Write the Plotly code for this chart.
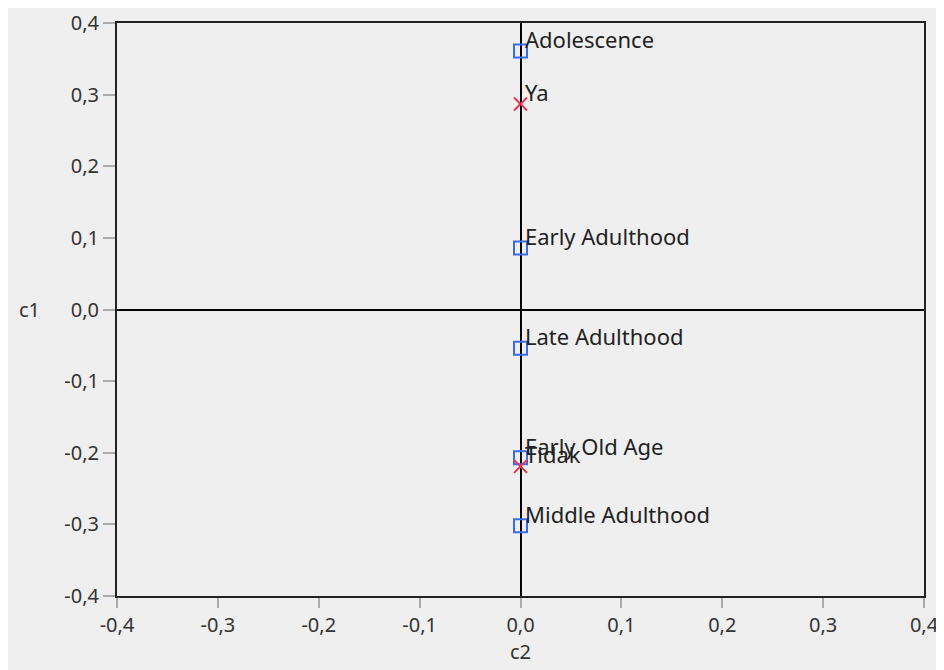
import plotly.graph_objects as go

# Row points (age groups)
age_labels = ["Adolescence", "Early Adulthood", "Late Adulthood", "Early Old Age", "Middle Adulthood"]
age_c2 = [0.0, 0.0, 0.0, 0.0, 0.0]
age_c1 = [0.361, 0.086, -0.054, -0.207, -0.302]

# Column points (answers)
ans_labels = ["Ya", "Tidak"]
ans_c2 = [0.0, 0.0]
ans_c1 = [0.287, -0.219]

tick_vals = [-0.4, -0.3, -0.2, -0.1, 0.0, 0.1, 0.2, 0.3, 0.4]
tick_text = ["-0,4", "-0,3", "-0,2", "-0,1", "0,0", "0,1", "0,2", "0,3", "0,4"]

FONT = "Noto Sans"
fig = go.Figure()

fig.add_trace(go.Scatter(
    x=age_c2, y=age_c1, mode="markers", cliponaxis=False,
    marker=dict(symbol="square-open", size=13, color="#3a6cec", line=dict(width=2)),
    showlegend=False))

fig.add_trace(go.Scatter(
    x=ans_c2, y=ans_c1, mode="markers", cliponaxis=False,
    marker=dict(symbol="x-thin-open", size=13, color="#e8344e", line=dict(width=2, color="#e8344e")),
    showlegend=False))

annotations = []
for lab, xv, yv in list(zip(age_labels, age_c2, age_c1)) + list(zip(ans_labels, ans_c2, ans_c1)):
    annotations.append(dict(text=lab, x=xv, y=yv, xref="x", yref="y", xanchor="left", yanchor="middle",
                            xshift=2, yshift=12, showarrow=False,
                            font=dict(family=FONT, size=22, color="#222222")))

annotations.append(dict(text="c1", xref="paper", yref="y", x=-0.108, y=0, xanchor="center", yanchor="middle",
                        showarrow=False, font=dict(family=FONT, size=20, color="#333333")))

fig.add_shape(type="rect", xref="paper", yref="paper", x0=-0.137, x1=1.04, y0=-0.135, y1=1.04,
              fillcolor="#efefef", line=dict(width=0), layer="below")

axis_common = dict(
    range=[-0.4, 0.4], tickvals=tick_vals, ticktext=tick_text, automargin=False,
    showgrid=False, zeroline=True, zerolinecolor="black", zerolinewidth=2,
    showline=True, linecolor="#222222", linewidth=2, mirror=True,
    ticks="outside", tickcolor="#aaaaaa", tickwidth=2,
    tickfont=dict(family=FONT, size=20, color="#333333"),
)

fig.update_layout(
    width=936, height=662,
    margin=dict(l=109, r=20, t=15, b=74),
    paper_bgcolor="white", plot_bgcolor="#efefef",
    xaxis=dict(**axis_common, ticklen=10,
               title=dict(text="c2", font=dict(family=FONT, size=20, color="#333333"), standoff=0)),
    yaxis=dict(**axis_common, ticklen=12),
    annotations=annotations,
)

fig.write_html("out.html")
